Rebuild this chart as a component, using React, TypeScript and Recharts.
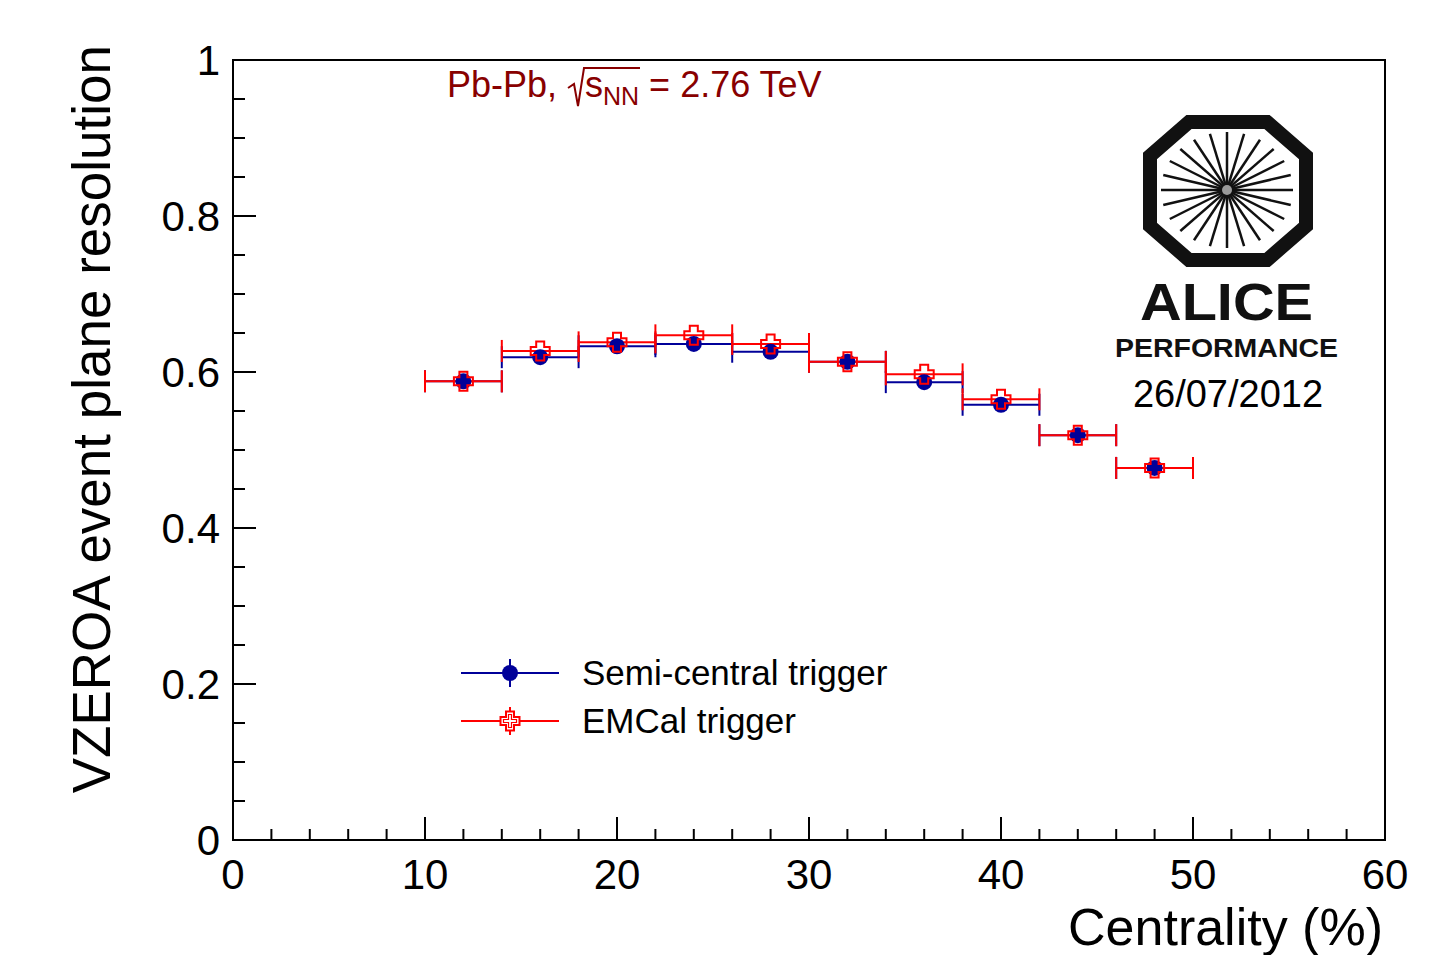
import React from 'react';
import { ComposedChart, Scatter, XAxis, YAxis, ErrorBar, ReferenceArea, Legend, Customized } from 'recharts';

// centrality bins (bin centre, half width)
const centrality = [12, 16, 20, 24, 28, 32, 36, 40, 44, 48];
const binHalfWidth = [2, 2, 2, 2, 2, 2, 2, 2, 2, 2];

// event plane resolution per trigger
const semiCentral = [0.588, 0.619, 0.633, 0.636, 0.626, 0.613, 0.587, 0.558, 0.519, 0.477];
const emcal = [0.588, 0.627, 0.638, 0.647, 0.636, 0.613, 0.597, 0.565, 0.519, 0.477];

const seriesNames = ['Semi-central trigger', 'EMCal trigger'];

const xTicks = [0, 2, 4, 6, 8, 10, 12, 14, 16, 18, 20, 22, 24, 26, 28, 30, 32, 34, 36, 38, 40, 42, 44, 46, 48, 50, 52, 54, 56, 58, 60];
const yTicks = [0, 0.05, 0.1, 0.15, 0.2, 0.25, 0.3, 0.35, 0.4, 0.45, 0.5, 0.55, 0.6, 0.65, 0.7, 0.75, 0.8, 0.85, 0.9, 0.95, 1];

const FONT = '"Liberation Sans", Arial, Helvetica, sans-serif';
const BLUE = '#000099';
const RED = '#ff0000';

const semiData = centrality.map((c, i) => ({ x: c, y: semiCentral[i], ex: binHalfWidth[i] }));
const emcalData = centrality.map((c, i) => ({ x: c, y: emcal[i], ex: binHalfWidth[i] }));

const crossPath = (cx: number, cy: number, s = 9.5, a = 4) =>
  `M${cx - a},${cy - s} H${cx + a} V${cy - a} H${cx + s} V${cy + a} H${cx + a} V${cy + s} H${cx - a} V${cy + a} H${cx - s} V${cy - a} H${cx - a} Z`;

const BlueDot = (props: any) => <circle cx={props.cx} cy={props.cy} r={8} fill={BLUE} />;
const RedCross = (props: any) => <path d={crossPath(props.cx, props.cy)} fill="none" stroke={RED} strokeWidth={2} />;

const XTick = (props: any) => {
  const { x, y, payload } = props;
  const v = payload.value;
  const major = v % 10 === 0;
  return (
    <g>
      <line x1={x} y1={y} x2={x} y2={y - (major ? 23 : 11)} stroke="#000" strokeWidth={2} />
      {major && (
        <text x={x} y={y + 49} textAnchor="middle" fontSize={42} fontFamily={FONT} fill="#000">
          {v}
        </text>
      )}
    </g>
  );
};

const YTick = (props: any) => {
  const { x, y, payload } = props;
  const v = payload.value;
  const major = Math.abs(v * 5 - Math.round(v * 5)) < 1e-9;
  return (
    <g>
      <line x1={x} y1={y} x2={x + (major ? 23 : 12)} y2={y} stroke="#000" strokeWidth={2} />
      {major && (
        <text x={x - 13} y={y + 15} textAnchor="end" fontSize={42} fontFamily={FONT} fill="#000">
          {String(Math.round(v * 10) / 10)}
        </text>
      )}
    </g>
  );
};

const legendMarkers: Record<string, (cx: number, cy: number) => React.ReactNode> = {
  'Semi-central trigger': (cx, cy) => (
    <g>
      <line x1={cx} y1={cy - 14} x2={cx} y2={cy + 14} stroke={BLUE} strokeWidth={2} />
      <circle cx={cx} cy={cy} r={8} fill={BLUE} />
    </g>
  ),
  'EMCal trigger': (cx, cy) => (
    <g>
      <line x1={cx} y1={cy - 14} x2={cx} y2={cy + 14} stroke={RED} strokeWidth={2} />
      <path d={crossPath(cx, cy)} fill="#fff" stroke={RED} strokeWidth={2} />
      <path d={crossPath(cx, cy, 6.5, 1.5)} fill="none" stroke={RED} strokeWidth={1.2} />
    </g>
  ),
};

const renderLegend = (props: any) => {
  const items = [...(props.payload || [])].sort(
    (a: any, b: any) => seriesNames.indexOf(a.value) - seriesNames.indexOf(b.value)
  );
  return (
    <svg width={500} height={100} style={{ display: 'block' }}>
      {items.map((entry: any, i: number) => {
        const cy = 28 + i * 48;
        return (
          <g key={entry.value}>
            <line x1={6} y1={cy} x2={104} y2={cy} stroke={entry.color} strokeWidth={2} />
            {legendMarkers[entry.value] && legendMarkers[entry.value](55, cy)}
            <text x={127} y={cy + 12} fontSize={35} fontFamily={FONT} fill="#000">
              {entry.value}
            </text>
          </g>
        );
      })}
    </svg>
  );
};

const Decorations = () => {
  const cx = 1227;
  const cy = 190;
  const rays = [];
  for (let k = 0; k < 24; k++) {
    const a = (k * Math.PI) / 12;
    rays.push(
      <line
        key={k}
        x1={cx + 4 * Math.cos(a)}
        y1={cy - 4 * Math.sin(a)}
        x2={cx + 66 * Math.cos(a)}
        y2={cy - 58 * Math.sin(a)}
        stroke="#111"
        strokeWidth={2.5}
      />
    );
  }
  const ox = 1228;
  const oy = 191;
  const W = 78;
  const H = 69;
  const oct = [
    [ox - 39, oy - H], [ox + 39, oy - H], [ox + W, oy - 35], [ox + W, oy + 35],
    [ox + 39, oy + H], [ox - 39, oy + H], [ox - W, oy + 35], [ox - W, oy - 35],
  ]
    .map((p) => p.join(','))
    .join(' ');
  return (
    <g>
      {/* axis titles */}
      <text x={1383} y={945} textAnchor="end" fontSize={52} fontFamily={FONT} fill="#000">
        Centrality (%)
      </text>
      <text x={110} y={45} transform="rotate(-90, 110, 45)" textAnchor="end" fontSize={53} fontFamily={FONT} fill="#000">
        VZEROA event plane resolution
      </text>
      {/* collision system */}
      <text x={447} y={97} fontSize={36} fontFamily={FONT} fill="#880000">
        Pb-Pb,
      </text>
      <path d="M568,88 L574,84 L578,106 L584,68 L640,68" fill="none" stroke="#880000" strokeWidth={2} />
      <text x={585} y={97} fontSize={36} fontFamily={FONT} fill="#880000">
        s<tspan fontSize={25} dy={8}>NN</tspan>
        <tspan dy={-8}> = 2.76 TeV</tspan>
      </text>
      {/* ALICE logo */}
      <polygon points={oct} fill="none" stroke="#111" strokeWidth={14} strokeLinejoin="miter" />
      {rays}
      <circle cx={cx} cy={cy} r={5} fill="#999" />
      <text x={1140} y={320} fontSize={52} fontWeight="bold" fontFamily={FONT} textLength={173} lengthAdjust="spacingAndGlyphs" fill="#111">
        ALICE
      </text>
      <text x={1115} y={357} fontSize={26} fontWeight="bold" fontFamily={FONT} textLength={223} lengthAdjust="spacingAndGlyphs" fill="#111">
        PERFORMANCE
      </text>
      <text x={1228} y={407} textAnchor="middle" fontSize={38} fontFamily={FONT} fill="#000">
        26/07/2012
      </text>
    </g>
  );
};

export default function App() {
  return (
    <div style={{ position: 'absolute', left: 0, top: 0, background: '#fff' }}>
      <ComposedChart width={1451} height={955} margin={{ top: 60, right: 66, bottom: 55, left: 133 }}>
        <XAxis
          type="number"
          dataKey="x"
          domain={[0, 60]}
          ticks={xTicks}
          interval={0}
          tick={<XTick />}
          tickLine={false}
          axisLine={false}
          tickSize={0}
          tickMargin={0}
          height={60}
          allowDataOverflow
        />
        <YAxis
          type="number"
          dataKey="y"
          domain={[0, 1]}
          ticks={yTicks}
          interval={0}
          tick={<YTick />}
          tickLine={false}
          axisLine={false}
          tickSize={0}
          tickMargin={0}
          width={100}
          allowDataOverflow
        />
        <ReferenceArea x1={0} x2={60} y1={0} y2={1} fill="none" stroke="#000" strokeWidth={2} />
        <Scatter name={seriesNames[0]} data={semiData} fill={BLUE} shape={BlueDot} isAnimationActive={false}>
          <ErrorBar dataKey="ex" direction="x" width={11} stroke={BLUE} strokeWidth={2} />
        </Scatter>
        <Scatter name={seriesNames[1]} data={emcalData} fill={RED} shape={RedCross} isAnimationActive={false}>
          <ErrorBar dataKey="ex" direction="x" width={11} stroke={RED} strokeWidth={2} />
        </Scatter>
        <Legend
          layout="vertical"
          align="center"
          verticalAlign="middle"
          wrapperStyle={{ left: 455, top: 645, width: 500, height: 100 }}
          content={renderLegend}
        />
        <Customized component={Decorations} />
      </ComposedChart>
    </div>
  );
}
